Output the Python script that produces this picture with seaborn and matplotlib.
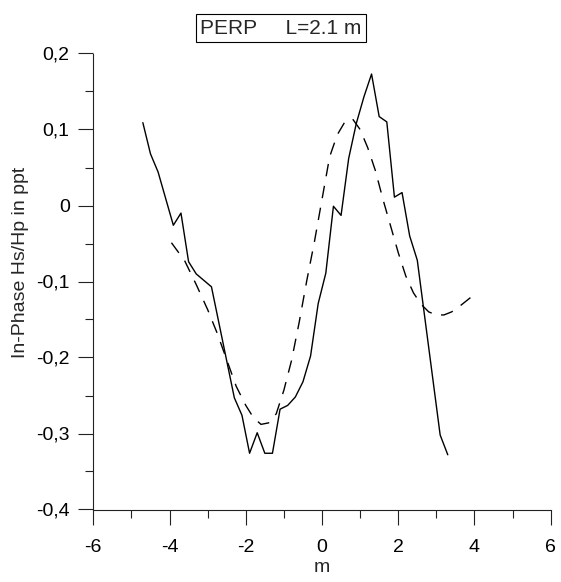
import matplotlib
matplotlib.use("Agg")
import matplotlib.pyplot as plt
import seaborn as sns
import pandas as pd
from matplotlib.ticker import FuncFormatter, MultipleLocator

# measured profile (solid)
solid_x = [-4.7, -4.5, -4.3, -3.9, -3.7, -3.5, -3.3, -2.9, -2.3, -2.1, -1.9, -1.7,
           -1.5, -1.3, -1.1, -0.9, -0.7, -0.5, -0.3, -0.1, 0.1, 0.3, 0.5, 0.7,
           0.9, 1.1, 1.3, 1.5, 1.7, 1.9, 2.1, 2.3, 2.5, 3.1, 3.3]
solid_y = [0.109, 0.068, 0.044, -0.026, -0.010, -0.074, -0.090, -0.107, -0.253, -0.276,
           -0.326, -0.299, -0.326, -0.326, -0.268, -0.263, -0.252, -0.232, -0.198, -0.129,
           -0.089, -0.001, -0.013, 0.062, 0.108, 0.143, 0.173, 0.117, 0.110, 0.011,
           0.017, -0.040, -0.072, -0.302, -0.328]

# model profile (dashed)
model_x = [-3.95, -3.6, -3.3, -3.0, -2.75, -2.5, -2.25, -2.0, -1.8, -1.6, -1.4, -1.2,
           -1.0, -0.8, -0.6, -0.4, -0.2, 0.0, 0.2, 0.4, 0.6, 0.8, 1.0, 1.2, 1.4, 1.6,
           1.8, 2.0, 2.2, 2.4, 2.6, 2.8, 3.0, 3.2, 3.4, 3.6, 3.8, 4.0]
model_y = [-0.049, -0.073, -0.104, -0.137, -0.168, -0.203, -0.238, -0.263, -0.279, -0.288,
           -0.286, -0.274, -0.243, -0.204, -0.154, -0.099, -0.048, 0.008, 0.064, 0.093,
           0.110, 0.114, 0.100, 0.076, 0.046, 0.008, -0.027, -0.062, -0.093, -0.115,
           -0.130, -0.140, -0.144, -0.144, -0.140, -0.133, -0.125, -0.117]

title_text = "PERP     L=2.1 m"
x_label = "m"
y_label = "In-Phase Hs/Hp in ppt"

sns.set_style("ticks")
plt.rcParams["font.family"] = ["Liberation Sans", "DejaVu Sans"]
plt.rcParams["axes.unicode_minus"] = False

W, H = 561, 582
fig = plt.figure(figsize=(W / 100, H / 100), dpi=100)
left, right, top, bottom = 93.3, 550.7, 53.5, 509.5
ax = fig.add_axes([left / W, 1 - bottom / H, (right - left) / W, (bottom - top) / H])

df_s = pd.DataFrame({"x": solid_x, "y": solid_y})
df_m = pd.DataFrame({"x": model_x, "y": model_y})
sns.lineplot(data=df_s, x="x", y="y", sort=False, estimator=None, color="black",
             linewidth=1.0, ax=ax)
sns.lineplot(data=df_m, x="x", y="y", sort=False, estimator=None, color="black",
             linewidth=1.0, linestyle=(0, (9, 7)), ax=ax)

ax.set_xlim(-6, 6)
ax.set_ylim(-0.4, 0.2)
ax.xaxis.set_major_locator(MultipleLocator(2))
ax.xaxis.set_minor_locator(MultipleLocator(1))
ax.yaxis.set_major_locator(MultipleLocator(0.1))
ax.yaxis.set_minor_locator(MultipleLocator(0.05))


def yfmt(v, p):
    if abs(v) < 1e-9:
        return "0"
    return f"{v:.1f}".replace(".", ",")


def xfmt(v, p):
    return f"{int(round(v))}"


ax.yaxis.set_major_formatter(FuncFormatter(yfmt))
ax.xaxis.set_major_formatter(FuncFormatter(xfmt))

for s in ["top", "right"]:
    ax.spines[s].set_visible(False)
for s in ["left", "bottom"]:
    ax.spines[s].set_color("#222222")
    ax.spines[s].set_linewidth(0.8)

ax.tick_params(which="major", direction="out", length=11, width=0.8, color="#222222",
               labelsize=14, labelcolor="black")
ax.tick_params(axis="x", which="major", pad=10)
ax.tick_params(axis="y", which="major", pad=6)
ax.tick_params(which="minor", direction="out", length=5.5, width=0.8, color="#222222")

ax.set_xlabel(x_label, fontsize=14)
ax.set_ylabel(y_label, fontsize=14)
ax.xaxis.set_label_coords(0.5, 1 - (568 - top) / (bottom - top), transform=ax.transAxes)
ax.xaxis.label.set_va("center")
ax.yaxis.set_label_coords((21 - left) / (right - left), (bottom - 262) / (bottom - top),
                          transform=ax.transAxes)
ax.yaxis.label.set_va("center")

fig.text(280.8 / W, 1 - 28.3 / H, title_text, ha="center", va="center", fontsize=15,
         bbox=dict(boxstyle="square,pad=0.22", fc="white", ec="black", lw=0.8))

fig.savefig("out.png", dpi=100)
